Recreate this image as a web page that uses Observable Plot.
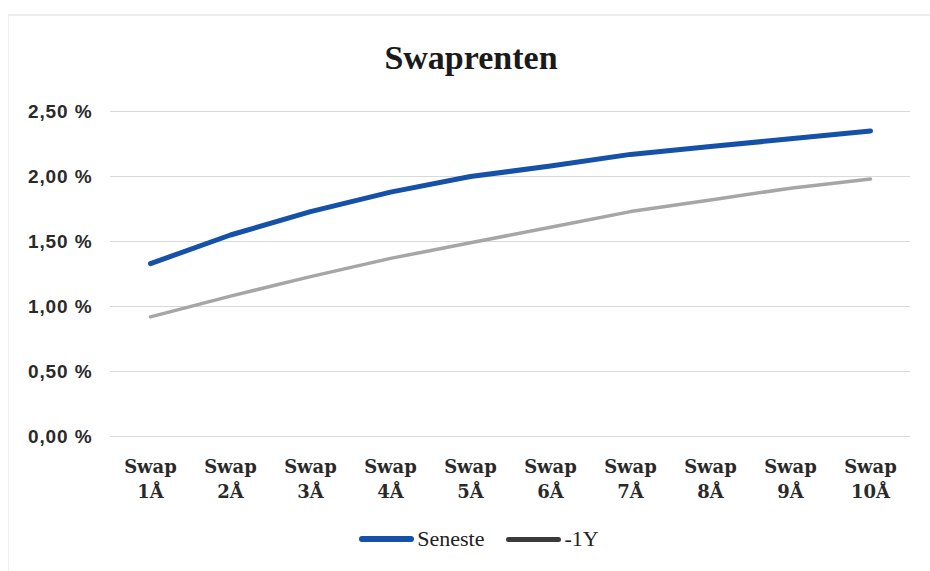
<!DOCTYPE html>
<html>
<head>
<meta charset="utf-8">
<script src="https://cdn.jsdelivr.net/npm/d3@7"></script>
<script src="https://cdn.jsdelivr.net/npm/@observablehq/plot@0.6"></script>
<style>
  html, body { margin: 0; padding: 0; background: #fff; }
  body { width: 930px; height: 571px; position: relative; overflow: hidden; }
  #frame { position: absolute; left: 8px; top: 14px; width: 930px; height: 600px; border-left: 1px solid #eeeeee; border-top: 2px solid #ececec; }
  #title { position: absolute; left: 0; width: 942px; top: 36px; text-align: center;
           font-family: "Liberation Serif", serif; font-weight: bold; font-size: 34px; color: #1a1a1a; line-height: 44px; }
  #chart { position: absolute; left: 0; top: 90px; }
  #legend { position: absolute; top: 526px; left: 0; width: 958px; display: flex; justify-content: center; align-items: center;
            font-family: "Liberation Serif", serif; font-size: 22px; color: #222; }
  .item { display: flex; align-items: center; margin: 0 11px; }
  .sw { display: inline-block; width: 55px; border-radius: 3px; margin-right: 3px; }
</style>
</head>
<body>
<div id="frame"></div>
<div id="title">Swaprenten</div>
<div id="chart"></div>
<div id="legend"></div>
<script>
const categories = ["1Å","2Å","3Å","4Å","5Å","6Å","7Å","8Å","9Å","10Å"];
const seneste = [1.33, 1.55, 1.73, 1.88, 2.00, 2.08, 2.17, 2.23, 2.29, 2.35];
const minus1Y = [0.92, 1.08, 1.23, 1.37, 1.49, 1.61, 1.73, 1.82, 1.91, 1.98];
const yTicks = [0, 0.5, 1.0, 1.5, 2.0, 2.5];
const seriesNames = ["Seneste", "-1Y"];
const seriesColors = ["#1551a8", "#a6a6a6"];
const legendSwatch = ["#1551a8", "#3a3a3a"];

const rows = [];
categories.forEach((c, i) => {
  rows.push({cat: c, value: seneste[i], series: seriesNames[0]});
  rows.push({cat: c, value: minus1Y[i], series: seriesNames[1]});
});

const fmt = v => v.toFixed(2).replace(".", ",") + " %";

const plot = Plot.plot({
  width: 930,
  height: 430,
  marginLeft: 110,
  marginRight: 20,
  marginTop: 21,
  marginBottom: 84,
  x: {type: "point", domain: categories, padding: 0.5},
  y: {domain: [0, 2.5]},
  marks: [
    Plot.gridY(yTicks, {stroke: "#d9d9d9", strokeOpacity: 1, strokeWidth: 1.2}),
    Plot.axisY(yTicks, {tickSize: 0, tickPadding: 18, tickFormat: fmt,
      fontFamily: "Liberation Sans, sans-serif", fontSize: 19, fontWeight: "bold", fill: "#2a2a2a", label: null}),
    Plot.axisX({tickSize: 0, tickPadding: 19, tickFormat: d => "Swap\n" + d,
      fontFamily: "DejaVu Serif, serif", fontSize: 18, fontWeight: "bold", lineHeight: 1.38, fill: "#2a2a2a", label: null}),
    Plot.line(rows.filter(r => r.series === seriesNames[1]), {x: "cat", y: "value", stroke: seriesColors[1], strokeWidth: 3.5, strokeLinecap: "round"}),
    Plot.line(rows.filter(r => r.series === seriesNames[0]), {x: "cat", y: "value", stroke: seriesColors[0], strokeWidth: 5, strokeLinecap: "round"})
  ]
});
plot.querySelectorAll('[aria-label="y-axis tick label"] text').forEach(t => t.style.letterSpacing = "0.9px");
document.getElementById("chart").appendChild(plot);

const leg = document.getElementById("legend");
seriesNames.forEach((n, i) => {
  const it = document.createElement("span");
  it.className = "item";
  const sw = document.createElement("span");
  sw.className = "sw";
  sw.style.background = legendSwatch[i];
  sw.style.height = i === 0 ? "6px" : "5px";
  it.appendChild(sw);
  it.appendChild(document.createTextNode(n));
  leg.appendChild(it);
});
</script>
</body>
</html>
